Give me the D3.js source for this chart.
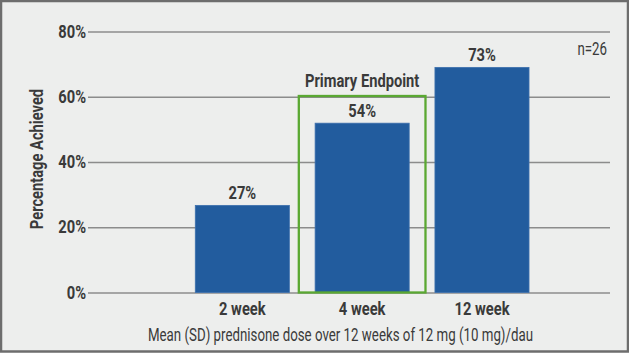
<!DOCTYPE html>
<html>
<head>
  <meta charset="utf-8">
  <script src="https://d3js.org/d3.v7.min.js"></script>
  <style>
    body { margin: 0; }
    text { font-family: Roboto, "Noto Sans", sans-serif; fill: #3a3a3a; }
    .bold { font-weight: bold; }
  </style>
</head>
<body>
<script>
  // chart data
  var categories = ["2 week", "4 week", "12 week"];
  var achieved = [26.7, 51.9, 69.0];          // bar heights as drawn (%)
  var valueLabels = ["27%", "54%", "73%"];
  var yTicks = [0, 20, 40, 60, 80];
  var primaryIndex = 1;

  var W = 629, H = 353;
  var sxB = 0.84, sxR = 0.76; // squeeze text to mimic a condensed face

  var svg = d3.select("body").append("svg")
    .attr("width", W)
    .attr("height", H);

  svg.append("rect")
    .attr("x", 1).attr("y", 1)
    .attr("width", W - 2).attr("height", H - 2.5)
    .attr("fill", "#edeeed")
    .attr("stroke", "#6d6d6d")
    .attr("stroke-width", 2.5);

  var y = d3.scaleLinear().domain([0, 80]).range([292.5, 31.5]);
  var x = d3.scaleBand().domain(categories)
    .range([182.4, 541.9])
    .paddingInner(0.215)
    .paddingOuter(0.1075);

  function label(tx, ty, str, size, bold, anchor, rot) {
    var s = bold ? sxB : sxR;
    return svg.append("text")
      .attr("class", bold ? "bold" : null)
      .attr("transform", "translate(" + tx + "," + ty + ")" + (rot ? " rotate(" + rot + ")" : "") + " scale(" + s + ",1)")
      .attr("text-anchor", anchor || "middle")
      .attr("font-size", size)
      .text(str);
  }

  // y axis with grid
  var gx0 = 88, gx1 = 610;
  var yAxis = svg.append("g")
    .attr("transform", "translate(" + gx0 + ",0)")
    .call(d3.axisLeft(y).tickValues(yTicks).tickSize(-(gx1 - gx0)).tickPadding(2)
      .tickFormat(function (d) { return d + "%"; }));
  yAxis.select(".domain").remove();
  yAxis.selectAll("line").attr("stroke", "#8c8c8c").attr("stroke-width", 1.4);
  yAxis.selectAll("text")
    .attr("class", "bold")
    .attr("font-family", null)
    .attr("font-size", 17.5)
    .attr("fill", "#3a3a3a")
    .attr("x", -2 / sxB)
    .attr("transform", "scale(" + sxB + ",1)");

  // bars
  svg.selectAll("rect.bar")
    .data(achieved)
    .enter().append("rect")
    .attr("class", "bar")
    .attr("x", function (d, i) { return x(categories[i]); })
    .attr("y", function (d) { return y(d); })
    .attr("width", x.bandwidth())
    .attr("height", function (d) { return y(0) - y(d); })
    .attr("fill", "#225c9e")
    .attr("stroke", "#3d70ad")
    .attr("stroke-width", 0.8);

  // value labels
  achieved.forEach(function (d, i) {
    label(x(categories[i]) + x.bandwidth() / 2, y(d) - 6.5, valueLabels[i], 17.5, true);
  });

  // primary endpoint box
  var pad = 16.3;
  var pc = categories[primaryIndex];
  svg.append("rect")
    .attr("x", x(pc) - pad)
    .attr("y", 96)
    .attr("width", x.bandwidth() + 2 * pad)
    .attr("height", y(0) - 96)
    .attr("fill", "none")
    .attr("stroke", "#5aa832")
    .attr("stroke-width", 2.3);
  label(x(pc) + x.bandwidth() / 2, 86.5, "Primary Endpoint", 17.5, true);

  // x axis labels
  var xAxis = svg.append("g")
    .attr("transform", "translate(0," + y(0) + ")")
    .call(d3.axisBottom(x).tickSize(0).tickPadding(10.5));
  xAxis.select(".domain").remove();
  xAxis.selectAll("text")
    .attr("class", "bold")
    .attr("font-family", null)
    .attr("font-size", 17.5)
    .attr("fill", "#3a3a3a")
    .attr("transform", "scale(" + sxB + ",1)")
    .attr("x", 0);

  // titles
  label(43, 159, "Percentage Achieved", 17.5, true, "middle", -90);
  label(340.5, 341.3, "Mean (SD) prednisone dose over 12 weeks of 12 mg (10 mg)/dau", 17.5, false);
  label(607, 55, "n=26", 17.5, false, "end");
</script>
</body>
</html>
